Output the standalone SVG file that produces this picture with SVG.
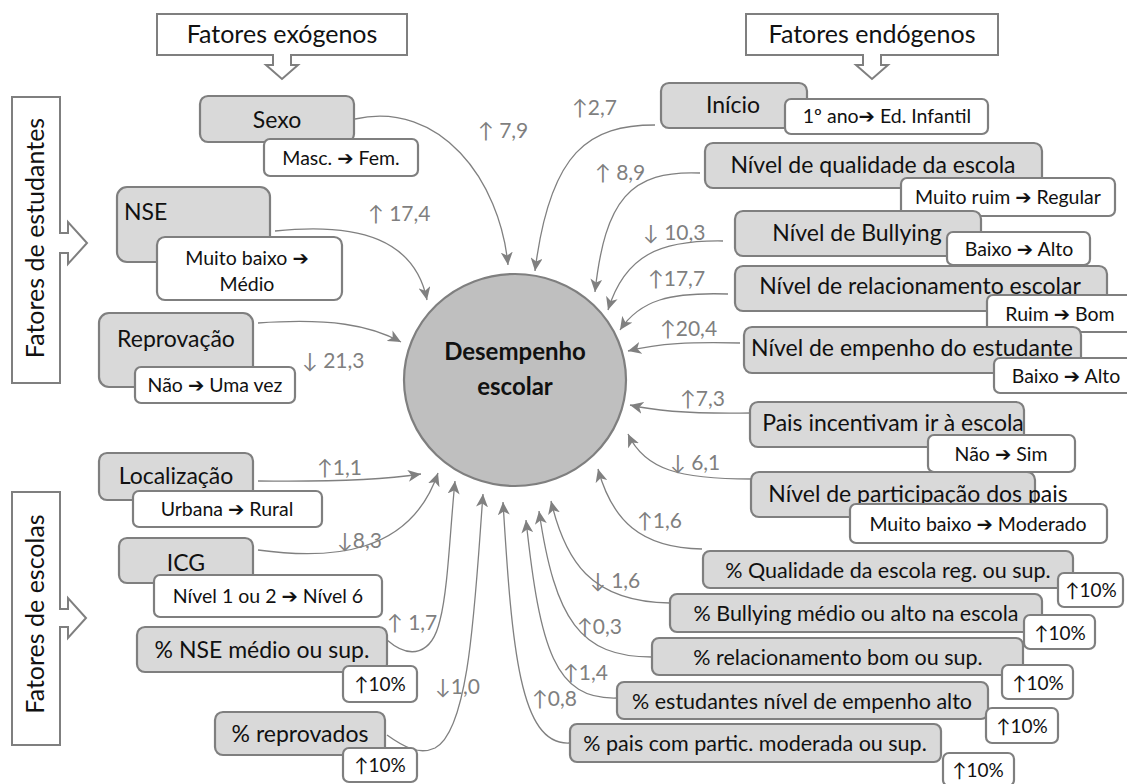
<svg xmlns="http://www.w3.org/2000/svg" width="1127" height="784" viewBox="0 0 1127 784">
<defs>
<style>
.call{fill:#fff;stroke:#7f7f7f;stroke-width:2}
.g{fill:#d9d9d9;stroke:#7f7f7f;stroke-width:2.2}
.w{fill:#fff;stroke:#7f7f7f;stroke-width:2.2}
.t{font-family:Lato,"Open Sans",sans-serif;font-size:23px;fill:#111;text-anchor:middle}
.p{font-family:Lato,"Open Sans",sans-serif;font-size:21.5px;fill:#111;text-anchor:middle}
.s{font-family:Lato,"Open Sans",sans-serif;font-size:19.5px;fill:#111;text-anchor:middle}
.u{font-family:Lato,"DejaVu Sans",sans-serif;font-size:19px;fill:#111;text-anchor:middle}
.h{font-family:Lato,"Open Sans",sans-serif;font-size:25px;fill:#111;text-anchor:middle}
.b{font-family:Lato,"Open Sans",sans-serif;font-size:24px;font-weight:bold;fill:#111;text-anchor:middle}
.lb{font-family:Lato,"DejaVu Sans",sans-serif;font-size:21px;fill:#7f7f7f}
.ar{font-family:"DejaVu Sans",sans-serif;font-weight:bold}
.c{fill:none;stroke:#808080;stroke-width:1.3;marker-end:url(#ah)}
</style>
<marker id="ah" markerUnits="userSpaceOnUse" markerWidth="14" markerHeight="12" refX="13" refY="6" orient="auto" viewBox="0 0 14 12">
<path d="M0,0 L13,6 L0,12 L3.5,6 Z" fill="#808080"/>
</marker>
</defs>

<g id="callout-exogenos">
<path class="call" d="M157,14 H407 V55 H291 V65 H298 L282,79 L266,65 H273 V55 H157 Z"/>
<text class="h" x="282" y="43">Fatores exógenos</text>
</g>
<g id="callout-endogenos">
<path class="call" d="M746,14 H998 V55 H881 V65 H888 L872,79 L856,65 H863 V55 H746 Z"/>
<text class="h" x="872" y="43">Fatores endógenos</text>
</g>
<g id="callout-estudantes">
<path class="call" d="M12,97 H60 V233 H68 V222 L87,243 L68,264 V253 H60 V383 H12 Z"/>
<text class="h" transform="translate(44,238) rotate(-90)">Fatores de estudantes</text>
</g>
<g id="callout-escolas">
<path class="call" d="M12,492 H60 V609 H68 V598 L86,618 L68,638 V627 H60 V745 H12 Z"/>
<text class="h" transform="translate(44,614) rotate(-90)">Fatores de escolas</text>
</g>

<g id="connectors">
<path class="c" d="M355,119 C440,100 500,180 508,265"/>
<path class="c" d="M655,125 C590,125 550,150 535,271"/>
<path class="c" d="M700,173 C630,170 605,200 595,292"/>
<path class="c" d="M723,241 C660,240 625,255 608,310"/>
<path class="c" d="M728,294 C670,292 640,300 620,330"/>
<path class="c" d="M740,343 C690,342 660,343 628,351"/>
<path class="c" d="M751,413 C700,414 660,412 630,405"/>
<path class="c" d="M751,479 C680,479 645,470 628,434"/>
<path class="c" d="M702,549 C640,548 612,520 598,469"/>
<path class="c" d="M670,603 C590,602 565,560 551,501"/>
<path class="c" d="M652,657 C580,657 555,620 539,511"/>
<path class="c" d="M617,698 C555,700 540,650 526,520"/>
<path class="c" d="M569,743 C520,745 512,650 503,502"/>
<path class="c" d="M275,231 C360,222 415,240 427,300"/>
<path class="c" d="M258,323 C330,318 370,325 401,342"/>
<path class="c" d="M258,481 C330,482 380,480 421,474"/>
<path class="c" d="M258,550 C330,560 410,555 438,473"/>
<path class="c" d="M387,640 C410,660 432,655 440,620 C448,590 450,530 455,481"/>
<path class="c" d="M387,735 C405,748 420,755 435,748 C470,730 475,600 483,494"/>
</g>

<g id="labels">
<text class="lb" x="478" y="138">↑ 7,9</text>
<text class="lb" x="572" y="115">↑2,7</text>
<text class="lb" x="595" y="180">↑ 8,9</text>
<text class="lb" x="643" y="240">↓ 10,3</text>
<text class="lb" x="648" y="286">↑17,7</text>
<text class="lb" x="660" y="336">↑20,4</text>
<text class="lb" x="680" y="406">↑7,3</text>
<text class="lb" x="670" y="470">↓ 6,1</text>
<text class="lb" x="637" y="528">↑1,6</text>
<text class="lb" x="590" y="588">↓ 1,6</text>
<text class="lb" x="577" y="634">↑0,3</text>
<text class="lb" x="563" y="680">↑1,4</text>
<text class="lb" x="532" y="706">↑0,8</text>
<text class="lb" x="368" y="221">↑ 17,4</text>
<text class="lb" x="302" y="368">↓ 21,3</text>
<text class="lb" x="317" y="475">↑1,1</text>
<text class="lb" x="337" y="548">↓8,3</text>
<text class="lb" x="387" y="630">↑ 1,7</text>
<text class="lb" x="435" y="694">↓1,0</text>
</g>

<g id="desempenho">
<ellipse cx="515" cy="380" rx="111" ry="106" fill="#bfbfbf" stroke="#7f7f7f" stroke-width="2.2"/>
<text class="b" x="515" y="360">Desempenho</text>
<text class="b" x="515" y="395">escolar</text>
</g>

<g id="sexo">
<rect class="g" x="200" y="96" width="154" height="46" rx="8"/>
<text class="t" x="277" y="128">Sexo</text>
<rect class="w" x="264" y="139" width="154" height="37" rx="6"/>
<text class="s" x="341" y="165">Masc. <tspan class="ar">➔</tspan> Fem.</text>
</g>
<g id="nse">
<rect class="g" x="117" y="187" width="153" height="75" rx="10"/>
<text class="t" x="124" y="220" style="text-anchor:start">NSE</text>
<rect class="w" x="157" y="237" width="185" height="63" rx="8"/>
<text class="s" x="247" y="265">Muito baixo <tspan class="ar">➔</tspan></text>
<text class="s" x="247" y="291">Médio</text>
</g>
<g id="reprovacao">
<rect class="g" x="99" y="313" width="154" height="74" rx="10"/>
<text class="t" x="176" y="347">Reprovação</text>
<rect class="w" x="135" y="367" width="160" height="36" rx="6"/>
<text class="s" x="215" y="392">Não <tspan class="ar">➔</tspan> Uma vez</text>
</g>
<g id="localizacao">
<rect class="g" x="99" y="453" width="154" height="47" rx="8"/>
<text class="t" x="176" y="484">Localização</text>
<rect class="w" x="133" y="491" width="189" height="36" rx="6"/>
<text class="s" x="227" y="516">Urbana <tspan class="ar">➔</tspan> Rural</text>
</g>
<g id="icg">
<rect class="g" x="119" y="538" width="134" height="45" rx="8"/>
<text class="t" x="186" y="571">ICG</text>
<rect class="w" x="154" y="575" width="228" height="42" rx="6"/>
<text class="s" x="268" y="603">Nível 1 ou 2 <tspan class="ar">➔</tspan> Nível 6</text>
</g>
<g id="pct-nse">
<rect class="g" x="137" y="627" width="250" height="45" rx="8"/>
<text class="t" x="262" y="658">% NSE médio ou sup.</text>
<rect class="w" x="343" y="666" width="74" height="36" rx="6"/>
<text class="u" x="380" y="691">↑10%</text>
</g>
<g id="pct-reprovados">
<rect class="g" x="215" y="712" width="170" height="43" rx="8"/>
<text class="t" x="300" y="742">% reprovados</text>
<rect class="w" x="343" y="748" width="74" height="34" rx="6"/>
<text class="u" x="380" y="772">↑10%</text>
</g>

<g id="inicio">
<rect class="g" x="661" y="83" width="146" height="45" rx="8"/>
<text class="t" x="733" y="113">Início</text>
<rect class="w" x="785" y="99" width="203" height="35" rx="6"/>
<text class="s" x="887" y="123">1º ano<tspan class="ar">➔</tspan> Ed. Infantil</text>
</g>
<g id="qualidade">
<rect class="g" x="705" y="143" width="337" height="45" rx="8"/>
<text class="t" x="873" y="173">Nível de qualidade da escola</text>
<rect class="w" x="901" y="178" width="214" height="38" rx="6"/>
<text class="s" x="1008" y="204">Muito ruim <tspan class="ar">➔</tspan> Regular</text>
</g>
<g id="bullying">
<rect class="g" x="735" y="211" width="246" height="45" rx="8"/>
<text class="t" x="857" y="241">Nível de Bullying</text>
<rect class="w" x="947" y="232" width="143" height="33" rx="6"/>
<text class="s" x="1019" y="256">Baixo <tspan class="ar">➔</tspan> Alto</text>
</g>
<g id="relacionamento">
<rect class="g" x="735" y="266" width="372" height="45" rx="8"/>
<text class="t" x="920" y="294">Nível de relacionamento escolar</text>
<rect class="w" x="987" y="295" width="150" height="37" rx="6"/>
<text class="s" x="1060" y="321">Ruim <tspan class="ar">➔</tspan> Bom</text>
</g>
<g id="empenho">
<rect class="g" x="744" y="327" width="337" height="46" rx="8"/>
<text class="t" x="912" y="356">Nível de empenho do estudante</text>
<rect class="w" x="994" y="358" width="143" height="35" rx="6"/>
<text class="s" x="1066" y="383">Baixo <tspan class="ar">➔</tspan> Alto</text>
</g>
<g id="incentivam">
<rect class="g" x="750" y="402" width="274" height="45" rx="8"/>
<text class="t" x="893" y="431">Pais incentivam ir à escola</text>
<rect class="w" x="928" y="435" width="147" height="37" rx="6"/>
<text class="s" x="1001" y="461">Não <tspan class="ar">➔</tspan> Sim</text>
</g>
<g id="participacao">
<rect class="g" x="751" y="472" width="284" height="45" rx="8"/>
<text class="t" x="918" y="502">Nível de participação dos pais</text>
<rect class="w" x="850" y="504" width="257" height="39" rx="6"/>
<text class="s" x="978" y="531">Muito baixo <tspan class="ar">➔</tspan>  Moderado</text>
</g>
<g id="pct-qualidade">
<rect class="g" x="703" y="551" width="370" height="37" rx="7"/>
<text class="p" x="888" y="578">% Qualidade da escola reg. ou sup.</text>
<rect class="w" x="1058" y="573" width="65" height="34" rx="6"/>
<text class="u" x="1091" y="597">↑10%</text>
</g>
<g id="pct-bullying">
<rect class="g" x="670" y="594" width="372" height="38" rx="7"/>
<text class="p" x="856" y="621">% Bullying médio ou alto na escola</text>
<rect class="w" x="1024" y="615" width="71" height="34" rx="6"/>
<text class="u" x="1060" y="640">↑10%</text>
</g>
<g id="pct-relacionamento">
<rect class="g" x="652" y="638" width="371" height="37" rx="7"/>
<text class="p" x="838" y="665">% relacionamento bom ou sup.</text>
<rect class="w" x="1002" y="665" width="71" height="34" rx="6"/>
<text class="u" x="1038" y="690">↑10%</text>
</g>
<g id="pct-empenho">
<rect class="g" x="617" y="682" width="371" height="37" rx="7"/>
<text class="p" x="802" y="709">% estudantes nível de empenho alto</text>
<rect class="w" x="986" y="708" width="72" height="35" rx="6"/>
<text class="u" x="1022" y="733">↑10%</text>
</g>
<g id="pct-pais">
<rect class="g" x="570" y="724" width="371" height="38" rx="7"/>
<text class="p" x="755" y="751">% pais com partic. moderada ou sup.</text>
<rect class="w" x="943" y="753" width="71" height="33" rx="6"/>
<text class="u" x="978" y="777">↑10%</text>
</g>
</svg>
